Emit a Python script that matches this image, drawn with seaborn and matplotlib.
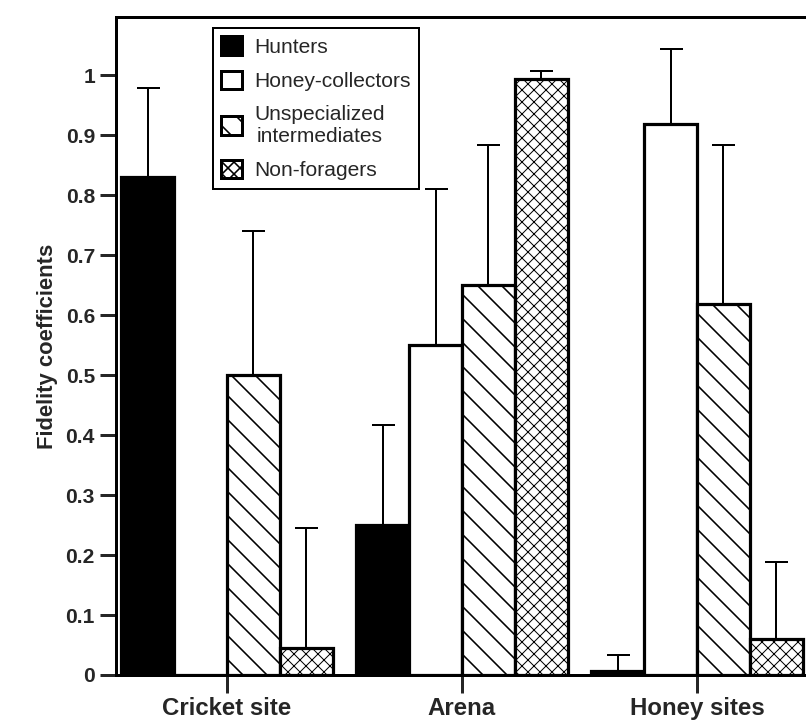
import numpy as np
import pandas as pd
import seaborn as sns
import matplotlib.pyplot as plt

sns.set_style("ticks")
plt.rcParams["font.family"] = ["Liberation Sans", "DejaVu Sans"]
plt.rcParams["hatch.linewidth"] = 1.6
plt.rcParams["hatch.color"] = "black"

# data
sites = ['Cricket site', 'Arena', 'Honey sites']
castes = ['Hunters', 'Honey-collectors', 'Unspecialized\nintermediates', 'Non-foragers']

hunters = [0.83, 0.25, 0.007]
hunters_err = [0.148, 0.167, 0.026]
honey = [0.0, 0.55, 0.918]
honey_err = [np.nan, 0.26, 0.125]
unspec = [0.50, 0.65, 0.618]
unspec_err = [0.24, 0.233, 0.265]
nonfor = [0.045, 0.993, 0.06]
nonfor_err = [0.20, 0.014, 0.128]

vals = [hunters, honey, unspec, nonfor]
errs = [hunters_err, honey_err, unspec_err, nonfor_err]
colors = ['black', 'white', 'white', 'white']
hatches = ['', '', '\\', 'xx']
hatch_lw = [1.6, 1.6, 1.6, 1.0]

df = pd.DataFrame({
    'site': np.tile(sites, len(castes)),
    'caste': np.repeat(castes, len(sites)),
    'value': np.concatenate(vals),
})

DPI = 72
fig = plt.figure(figsize=(806 / DPI, 725 / DPI), dpi=DPI)
ax = fig.add_axes([116 / 806, 50 / 725, 690 / 806, 658 / 725])

sns.barplot(data=df, x='site', y='value', hue='caste', order=sites,
            hue_order=castes, palette=colors, width=0.9, gap=0,
            errorbar=None, legend=False, edgecolor='black', linewidth=3.2,
            saturation=1, ax=ax)

for cont, h, hl, e in zip(ax.containers, hatches, hatch_lw, errs):
    xs = []
    for p in cont.patches:
        p.set_hatch(h)
        p.set_edgecolor('black')
        if hasattr(p, 'set_hatch_linewidth'):
            p.set_hatch_linewidth(hl)
        xs.append(p.get_x() + p.get_width() / 2)
    ys = [p.get_height() for p in cont.patches]
    e = np.array(e)
    ax.errorbar(xs, ys, yerr=[np.zeros_like(e), e], fmt='none',
                ecolor='black', elinewidth=2, capsize=11.5, capthick=2,
                zorder=1)

ax.set_xlim(-0.472, 2.464)
ax.set_ylim(0, 1.097)
ax.set_yticks(np.arange(0, 1.01, 0.1))
ax.set_yticklabels(['0', '0.1', '0.2', '0.3', '0.4', '0.5', '0.6', '0.7',
                    '0.8', '0.9', '1'])
ax.set_xlabel('')
ax.set_ylabel('Fidelity coefficients', fontsize=22, fontweight='bold',
              labelpad=8)

ax.tick_params(axis='y', direction='out', length=16, width=3,
               labelsize=21, pad=5)
ax.tick_params(axis='x', direction='out', length=18, width=3,
               labelsize=24, pad=4)
for lab in ax.get_xticklabels() + ax.get_yticklabels():
    lab.set_fontweight('bold')

for s in ['left', 'bottom', 'top']:
    ax.spines[s].set_linewidth(3)
    ax.spines[s].set_color('black')
ax.spines['right'].set_visible(False)

leg = ax.legend(ax.containers, castes, loc='upper left',
                bbox_to_anchor=(213 / 806, 1 - 28 / 725),
                bbox_transform=fig.transFigure, borderaxespad=0,
                fontsize=21, handlelength=1.0, handleheight=1.0,
                handletextpad=0.55, labelspacing=0.65, borderpad=0.4,
                fancybox=False, framealpha=1, edgecolor='black')
leg.get_frame().set_linewidth(2)
for t in leg.get_texts():
    t.set_multialignment('center')
for hd in leg.legend_handles:
    hd.set_linewidth(3)

fig.savefig('out.png', dpi=DPI)
